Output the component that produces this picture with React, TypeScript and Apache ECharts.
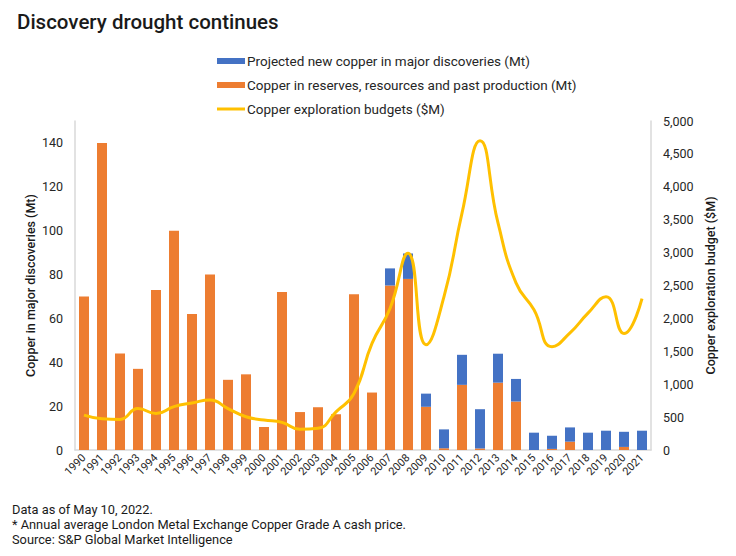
import { useEffect, useRef } from "react";
import * as echarts from "echarts";

const years = [
  "1990", "1991", "1992", "1993", "1994", "1995", "1996", "1997", "1998", "1999",
  "2000", "2001", "2002", "2003", "2004", "2005", "2006", "2007", "2008", "2009",
  "2010", "2011", "2012", "2013", "2014", "2015", "2016", "2017", "2018", "2019",
  "2020", "2021",
];

// Copper in reserves, resources and past production (Mt)
const reservesMt = [
  70, 140, 44, 37, 73, 100, 62, 80, 32, 34.5,
  10.5, 72, 17.3, 19.5, 16.3, 71, 26.2, 75, 78, 19.7,
  0.8, 29.7, 0.7, 30.7, 22.1, 0, 0.5, 3.8, 0, 0,
  1.4, 0,
];

// Projected new copper in major discoveries (Mt), stacked on top
const projectedMt = [
  0, 0, 0, 0, 0, 0, 0, 0, 0, 0,
  0, 0, 0, 0, 0, 0, 0, 7.8, 11.6, 6,
  8.6, 13.7, 17.9, 13.2, 10.3, 7.9, 6, 6.5, 7.9, 8.8,
  6.9, 8.8,
];

// Copper exploration budgets ($M)
const budgetsUsd = [
  530, 475, 465, 630, 555, 660, 715, 760, 630, 505,
  455, 420, 315, 330, 580, 860, 1620, 2150, 2990, 1600,
  2330, 3600, 4700, 3450, 2540, 2130, 1570, 1780, 2080, 2330,
  1770, 2300,
];

const leftTicks = { min: 0, max: 150, interval: 20 };
const rightTicks = { min: 0, max: 5000, interval: 500 };

const footnotes = [
  "Data as of May 10, 2022.",
  "* Annual average London Metal Exchange Copper Grade A cash price.",
  "Source: S&P Global Market Intelligence",
];

const FONT = "Roboto";
const TEXT = "#262626";
const AXIS_LINE = "#d9d9d9";

export default function App() {
  const chartRef = useRef<HTMLDivElement | null>(null);

  useEffect(() => {
    if (!chartRef.current) {
      return;
    }

    const chart = echarts.init(chartRef.current, undefined, { renderer: "svg" });

    chart.setOption({
      animation: false,
      backgroundColor: "#ffffff",
      textStyle: { fontFamily: FONT },
      title: {
        text: "Discovery drought continues",
        left: 12,
        top: 6,
        textStyle: { fontFamily: FONT, fontSize: 20.5, fontWeight: 500, color: "#1a1a1a" },
      },
      legend: {
        orient: "vertical",
        left: 212,
        top: 49,
        itemWidth: 28,
        itemHeight: 6,
        itemGap: 10,
        textStyle: { fontFamily: FONT, fontSize: 13.5, color: TEXT, padding: [0, 0, 0, -3] },
        data: [
          { name: "Projected new copper in major discoveries (Mt)", icon: "rect" },
          { name: "Copper in reserves, resources and past production (Mt)", icon: "rect" },
          { name: "Copper exploration budgets ($M)", icon: "path://M0,0h28v3h-28z" },
        ],
      },
      grid: { left: 75, right: 85, top: 121, bottom: 106 },
      xAxis: {
        type: "category",
        data: years,
        axisLine: { lineStyle: { color: AXIS_LINE, width: 1.5 } },
        axisTick: { show: false },
        axisLabel: {
          interval: 0,
          rotate: 45,
          fontFamily: FONT,
          fontSize: 11,
          color: TEXT,
          margin: 6,
        },
      },
      yAxis: [
        {
          type: "value",
          ...leftTicks,
          name: "Copper in major discoveries (Mt)",
          nameLocation: "middle",
          nameGap: 38,
          nameMoveOverlap: false,
          nameTextStyle: { fontFamily: FONT, fontSize: 12.5, fontWeight: 500, color: "#1a1a1a" },
          axisLine: { show: true, lineStyle: { color: AXIS_LINE, width: 1.5 } },
          axisTick: { show: false },
          splitLine: { show: false },
          axisLabel: {
            showMaxLabel: false,
            fontFamily: FONT,
            fontSize: 12.5,
            color: TEXT,
            margin: 12,
          },
        },
        {
          type: "value",
          ...rightTicks,
          name: "Copper exploration budget ($M)",
          nameLocation: "middle",
          nameGap: 53,
          nameMoveOverlap: false,
          nameTextStyle: { fontFamily: FONT, fontSize: 12.5, fontWeight: 500, color: "#1a1a1a" },
          axisLine: { show: true, lineStyle: { color: AXIS_LINE, width: 1.5 } },
          axisTick: { show: false },
          splitLine: { show: false },
          axisLabel: {
            fontFamily: FONT,
            fontSize: 12.5,
            color: TEXT,
            margin: 12,
            formatter: (v: number) => v.toLocaleString("en-US"),
          },
        },
      ],
      series: [
        {
          name: "Copper in reserves, resources and past production (Mt)",
          type: "bar",
          stack: "copper",
          barWidth: 10,
          yAxisIndex: 0,
          data: reservesMt,
          itemStyle: { color: "#ED7D31" },
        },
        {
          name: "Projected new copper in major discoveries (Mt)",
          type: "bar",
          stack: "copper",
          barWidth: 10,
          yAxisIndex: 0,
          data: projectedMt,
          itemStyle: { color: "#4472C4" },
        },
        {
          name: "Copper exploration budgets ($M)",
          type: "line",
          yAxisIndex: 1,
          data: budgetsUsd,
          smooth: 0.5,
          symbol: "none",
          lineStyle: { color: "#FFC000", width: 3 },
          itemStyle: { color: "#FFC000" },
          z: 5,
        },
      ],
      graphic: footnotes.map((line, i) => ({
        type: "text",
        left: 12,
        top: 503 + i * 15,
        style: { text: line, fontFamily: FONT, fontSize: 12.8, fill: "#1a1a1a" },
      })),
    });

    return () => {
      chart.dispose();
    };
  }, []);

  return <div ref={chartRef} style={{ width: 736, height: 556, margin: -8 }} />;
}
